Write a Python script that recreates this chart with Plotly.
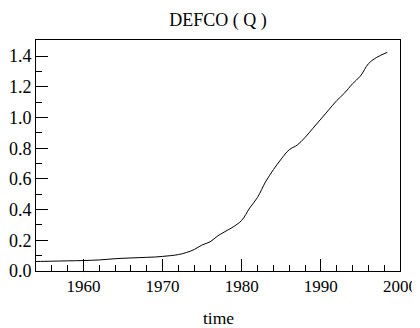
import plotly.graph_objects as go

# annual readings of the series
years = [1954, 1955, 1956, 1957, 1958, 1959, 1960, 1961, 1962, 1963,
         1964, 1965, 1966, 1967, 1968, 1969, 1970, 1971, 1972, 1973,
         1974, 1975, 1976, 1977, 1978, 1979, 1980, 1981, 1982, 1983,
         1984, 1985, 1986, 1987, 1988, 1989, 1990, 1991, 1992, 1993,
         1994, 1995, 1996, 1997, 1998.4]
defco = [0.062, 0.063, 0.064, 0.065, 0.066, 0.067, 0.068, 0.070, 0.072, 0.076,
         0.080, 0.083, 0.085, 0.087, 0.089, 0.091, 0.095, 0.100, 0.107, 0.120,
         0.140, 0.170, 0.190, 0.230, 0.260, 0.290, 0.330, 0.410, 0.480, 0.580,
         0.660, 0.730, 0.790, 0.820, 0.870, 0.930, 0.990, 1.050, 1.110, 1.160,
         1.220, 1.270, 1.350, 1.390, 1.425]

serif = "Liberation Serif"

fig = go.Figure(go.Scatter(x=years, y=defco, mode="lines",
                           line=dict(color="black", width=1, shape="spline")))

# page body keeps an 8px margin, so the figure is 412x320 inside the 420x328 window
fig.update_layout(
    width=412, height=320,
    margin=dict(l=28, r=20, t=32, b=57, autoexpand=False),
    paper_bgcolor="white", plot_bgcolor="white",
    showlegend=False,
    font_family=serif, font_color="black", font_size=18,
    title_text="DEFCO ( Q )",
    title_x=0.51, title_xanchor="center", title_y=0.962, title_yanchor="middle",
    title_font_family=serif, title_font_size=18,
    annotations=[dict(text="time", xref="paper", yref="paper", x=0.5, y=-0.205,
                      xanchor="center", yanchor="middle", showarrow=False,
                      font=dict(family=serif, size=17.5, color="black"))],
)
fig.update_xaxes(
    range=[1954, 2000], tickmode="array", tickvals=[1960, 1970, 1980, 1990, 2000],
    ticks="inside", ticklen=12, tickwidth=1, tickcolor="black",
    minor=dict(dtick=2, tick0=1954, ticks="inside", ticklen=6, tickcolor="black"),
    showline=True, linecolor="black", linewidth=1, mirror=True,
    showgrid=False, zeroline=False, automargin=False,
    tickfont_family=serif, tickfont_size=17,
)
fig.update_yaxes(
    range=[0, 1.505], tickvals=[0.0, 0.2, 0.4, 0.6, 0.8, 1.0, 1.2, 1.4],
    ticktext=["0.0", "0.2", "0.4", "0.6", "0.8", "1.0", "1.2", "1.4"],
    ticks="inside", ticklen=12, tickwidth=1, tickcolor="black",
    minor=dict(dtick=0.1, tick0=0, ticks="inside", ticklen=6, tickcolor="black"),
    showline=True, linecolor="black", linewidth=1, mirror=True,
    showgrid=False, zeroline=False, automargin=False,
    tickfont_family=serif, tickfont_size=18,
)

fig.write_html("out.html")
